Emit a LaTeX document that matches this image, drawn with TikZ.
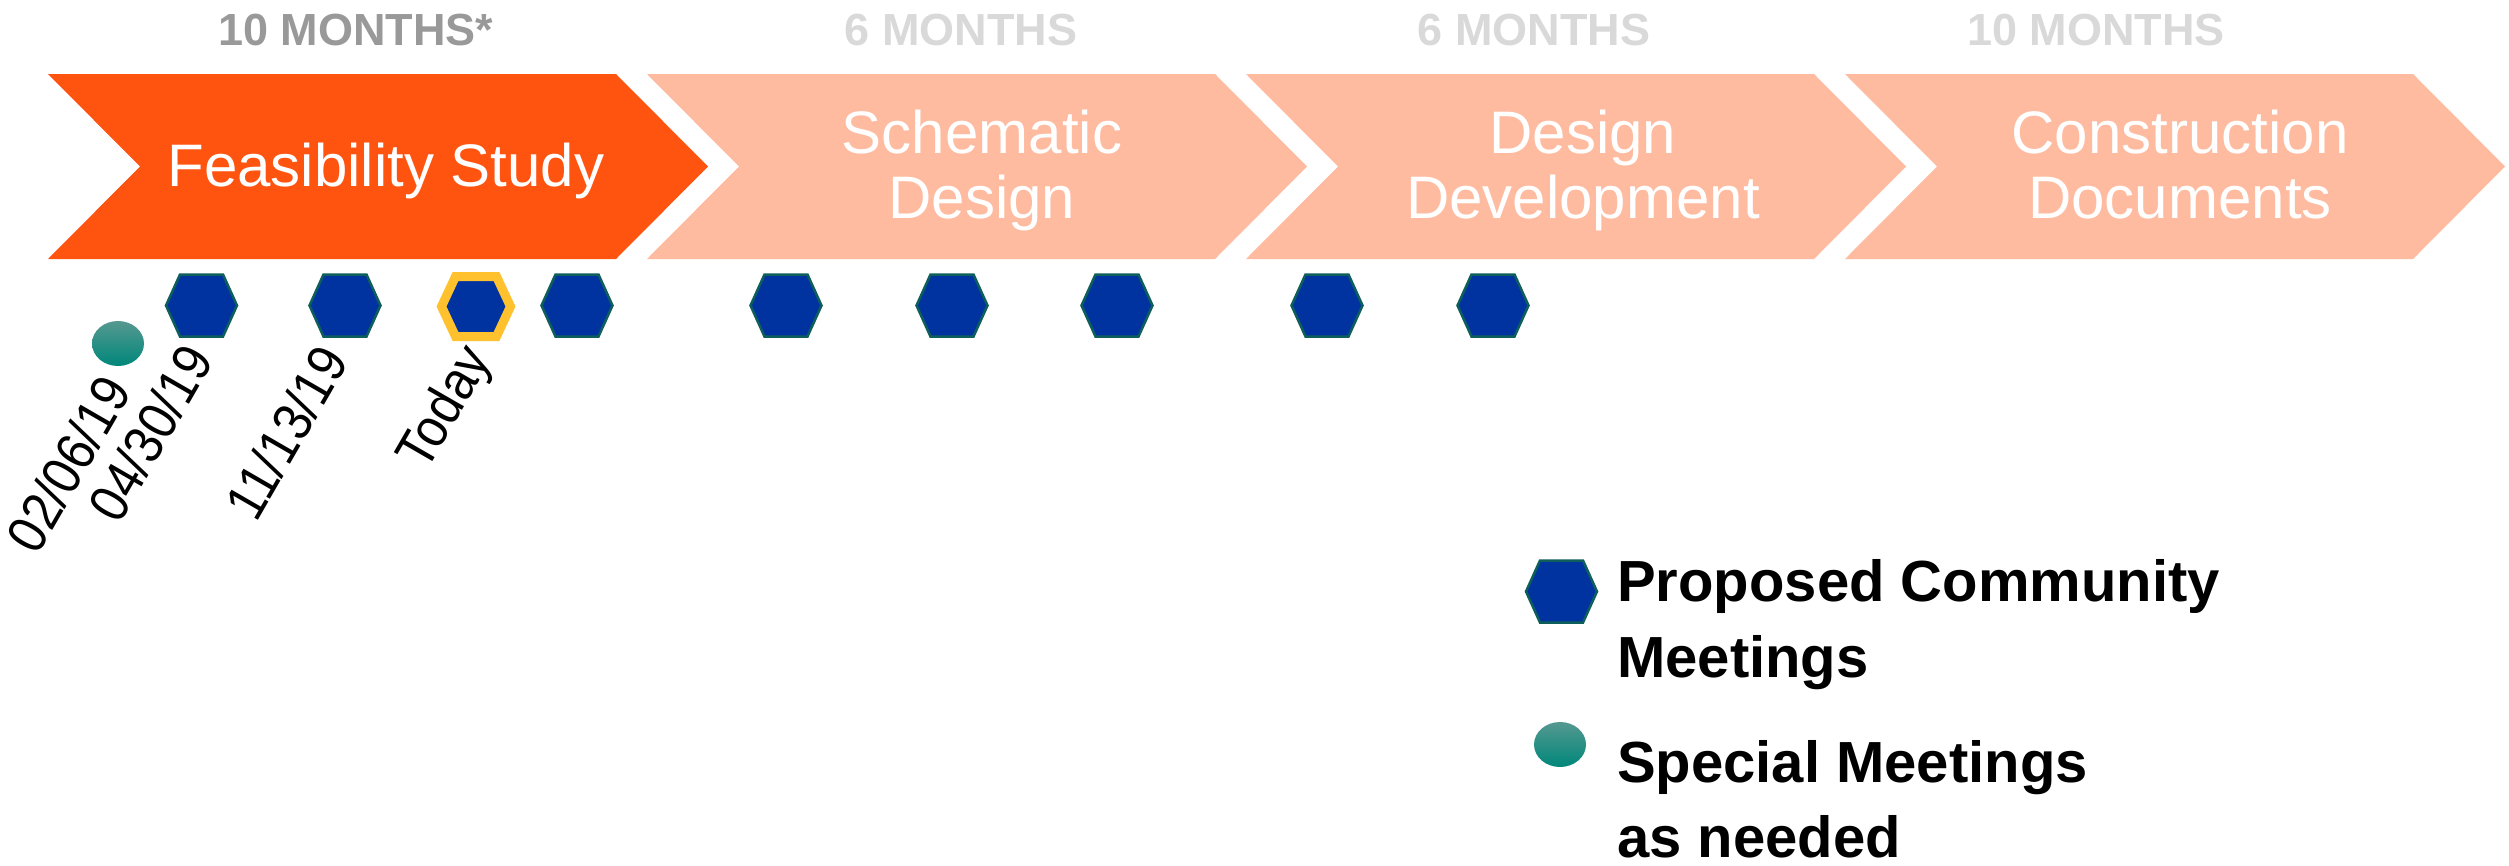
\documentclass[tikz,border=0pt]{standalone}
\usepackage{fontspec}
\setmainfont{Liberation Sans}
\newfontfamily\datefont{Liberation Sans}[FakeStretch=0.89]
\definecolor{feas}{HTML}{FF5410}
\definecolor{phase}{HTML}{FEBBA0}
\definecolor{hexblue}{HTML}{0033A0}
\definecolor{hexline}{HTML}{0E5F5C}
\definecolor{todayring}{HTML}{FFC22E}
\definecolor{mtgray}{HTML}{999999}
\definecolor{mtlight}{HTML}{D9D9D9}
\definecolor{tealtop}{HTML}{559890}
\definecolor{tealbot}{HTML}{00877A}
\newcommand\chevshape[2]{%
  \fill[#2] (#1,-74) -- ++(568,0) -- ++(92,-92.5) -- ++(-92,-92.5) -- ++(-568,0) -- ++(92,92.5) -- cycle;}
\newcommand\hexmark[3]{%
  \coordinate (#1) at (#2,#3);
  \filldraw[hexstyle, shift={(#1)}] (-35.5,0) -- (-21.5,31) -- (21.5,31) -- (35.5,0) -- (21.5,-31) -- (-21.5,-31) -- cycle;}
\tikzset{
  hexstyle/.style={fill=hexblue, draw=hexline, line width=2.5pt, line join=miter},
  months/.style={font=\fontsize{45}{50}\selectfont\bfseries, anchor=base, inner sep=0pt},
  phasetext/.style={font=\fontsize{60}{65}\selectfont, text=white, anchor=base, inner sep=0pt},
  datelbl/.style={font=\datefont\fontsize{55}{58}\selectfont, rotate=60, anchor=base east, inner sep=0pt},
  legendtext/.style={font=\fontsize{58}{64}\selectfont\bfseries, anchor=base west, inner sep=0pt},
  specialdot/.style={top color=tealtop, bottom color=tealbot, draw=none}
}
\begin{document}
\begin{tikzpicture}[x=1pt, y=1pt]
\useasboundingbox (0,0) rectangle (2509,-865);
% month labels
\node[months, text=mtgray] (m1) at (356,-45) {10 MONTHS*};
\node[months, text=mtlight] (m2) at (961,-45) {6 MONTHS};
\node[months, text=mtlight] (m3) at (1534,-45) {6 MONTHS};
\node[months, text=mtlight] (m4) at (2096,-45) {10 MONTHS};
% chevrons
\chevshape{48}{feas}
\chevshape{647}{phase}
\chevshape{1246}{phase}
\chevshape{1845}{phase}
\node[phasetext] (p1) at (386,-186) {Feasibility Study};
\node[phasetext] (p2a) at (982,-153) {Schematic};
\node[phasetext] (p2b) at (982,-218) {Design};
\node[phasetext] (p3a) at (1583,-153) {Design};
\node[phasetext] (p3b) at (1583,-218) {Development};
\node[phasetext] (p4a) at (2180,-153) {Construction};
\node[phasetext] (p4b) at (2180,-218) {Documents};
% special meeting dot
\coordinate (sp1) at (118,-343.5);
\shade[specialdot] (sp1) ellipse (26 and 22.5);
% hexagon meetings
\hexmark{h1}{201.5}{-305.5}
\hexmark{h2}{345}{-305.5}
\coordinate (h3) at (476,-306.5);
\filldraw[fill=hexblue, draw=todayring, line width=9pt, line join=miter, shift={(h3)}]
  (-34.5,0) -- (-20.5,30) -- (20.5,30) -- (34.5,0) -- (20.5,-30) -- (-20.5,-30) -- cycle;
\hexmark{h4}{577}{-305.5}
\hexmark{h5}{786}{-305.5}
\hexmark{h6}{952}{-305.5}
\hexmark{h7}{1117}{-305.5}
\hexmark{h8}{1327}{-305.5}
\hexmark{h9}{1493}{-305.5}
% date labels
\node[datelbl] (d1) at (133,-391) {02/06/19};
\node[datelbl] (d2) at (215,-360) {04/30/19};
\node[datelbl] (d3) at (350,-361) {11/13/19};
\node[datelbl] (d4) at (492,-359) {Today};
% legend
\hexmark{lh}{1561.5}{-591.5}
\coordinate (lc) at (1560,-744.5);
\shade[specialdot] (lc) ellipse (26 and 22.5);
\node[legendtext] (l1a) at (1617,-601) {Proposed Community};
\node[legendtext] (l1b) at (1617,-677) {Meetings};
\node[legendtext] (l2a) at (1617,-782) {Special Meetings};
\node[legendtext] (l2b) at (1617,-857) {as needed};
\end{tikzpicture}
\end{document}
